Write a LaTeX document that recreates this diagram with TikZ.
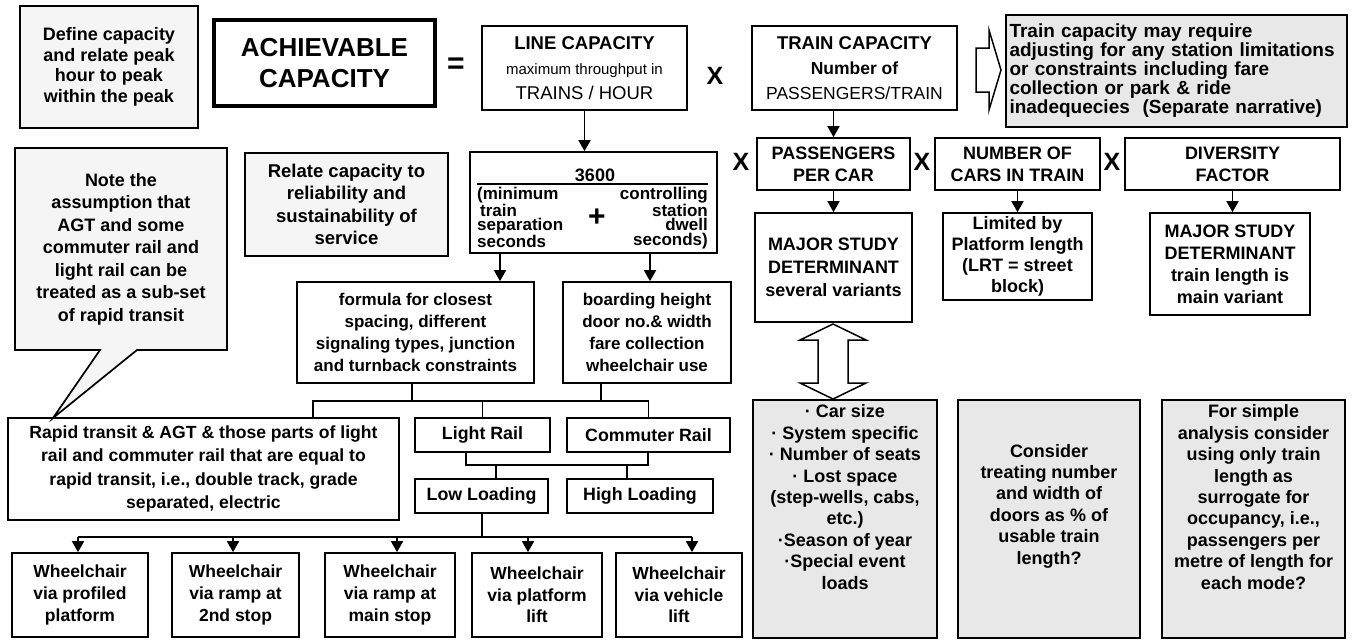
\documentclass[tikz,border=0pt]{standalone}
\usepackage{fontspec}
\setmainfont{Liberation Sans}
\usetikzlibrary{arrows.meta,calc}
\newcommand\myfs[2]{\fontsize{#1}{#2}\selectfont}
\begin{document}
\begin{tikzpicture}[x=1pt,y=-1pt,
  bx/.style={draw, line width=1.7pt, inner sep=0pt, align=center, font=\bfseries\myfs{18}{21.5}},
  txt/.style={inner sep=0pt, align=center, font=\bfseries\myfs{18}{21.4}},
  stip/.style={fill=black!9},
  lstip/.style={fill=black!4},
  arr/.style={line width=1.7pt, -{Triangle[length=11pt,width=12pt]}},
  ln/.style={line width=1.7pt},
  op/.style={font=\bfseries\myfs{25}{25}, inner sep=0pt}]
\useasboundingbox (0,0) rectangle (1353,640);
\fill[white] (0,0) rectangle (1353,640);

% ---------- top row
\node[bx,lstip,minimum width=178pt,minimum height=122pt,font=\bfseries\myfs{18}{20.5}] (define) at (109,67)
  {Define capacity\\and relate peak\\hour to peak\\within the peak};
\node[bx,line width=4pt,minimum width=221pt,minimum height=86pt,font=\bfseries\myfs{26}{31}] (achieve) at (324.5,63)
  {ACHIEVABLE\\CAPACITY};
\node[op,font=\bfseries\myfs{30}{30}] (eq) at (456,66) {=};
\node[bx,minimum width=205pt,minimum height=84pt,font=\bfseries\myfs{18.5}{25}] (line) at (584.5,68)
  {LINE CAPACITY\\{\mdseries\myfs{15}{25}maximum throughput in}\\{\mdseries\myfs{18.5}{25}TRAINS / HOUR}};
\node[op] (x1) at (715,76) {X};
\node[bx,minimum width=205pt,minimum height=84pt,font=\bfseries\myfs{18.5}{25}] (train) at (854.5,68)
  {TRAIN CAPACITY\\{\myfs{17.5}{25}Number of}\\{\mdseries\myfs{17.5}{25}PASSENGERS/TRAIN}};
\draw[line width=1.5pt,line join=miter] (976,48) -- (989,48) -- (989,30) -- (1001,70) -- (989,110) -- (989,92) -- (976,92) -- cycle;
\node[bx,stip,minimum width=341pt,minimum height=112pt,text width=334pt,align=left,font=\bfseries\myfs{19}{19}] (tnote) at (1176.5,71)
  {Train capacity may require\\adjusting for any station limitations\\or constraints including fare\\collection or park \& ride\\inadequecies\ \ (Separate narrative)};

% ---------- second row
\draw[ln,lstip,line join=miter] (15,148) -- (227,148) -- (227,350) -- (137,350) -- (53,418) -- (100,350) -- (15,350) -- cycle;
\node[txt,font=\bfseries\myfs{18}{22.5}] (note) at (121,249)
  {Note the\\assumption that\\AGT and some\\commuter rail and\\light rail can be\\treated as a sub-set\\of rapid transit};
\node[bx,lstip,minimum width=203pt,minimum height=103pt,font=\bfseries\myfs{18.5}{22.5}] (relate) at (346.5,204.5)
  {Relate capacity to\\reliability and\\sustainability of\\service};
\node[bx,minimum width=247pt,minimum height=101pt] (formula) at (593.5,202.5) {};
\node[font=\bfseries\myfs{18}{18},inner sep=0pt] (f3600) at (595,175) {3600};
\draw[ln] (477,184) -- (708,184);
\node[align=left,anchor=north west,font=\bfseries\myfs{17}{14.5},inner sep=0pt] (fl) at (477,187)
  {(minimum\\\hspace{3pt}train\\separation\\seconds};
\node[align=right,anchor=north east,font=\bfseries\myfs{17}{14.5},inner sep=0pt] (fr) at (708,187)
  {controlling\\station\\dwell\\seconds)};
\node[font=\bfseries\myfs{30}{30},inner sep=0pt] (fplus) at (597,218) {+};

\node[op] (x2) at (741,162) {X};
\node[bx,minimum width=153pt,minimum height=52pt,font=\bfseries\myfs{18}{22}] (pass) at (833.5,164) {PASSENGERS\\PER CAR};
\node[op] (x3) at (922,162) {X};
\node[bx,minimum width=165pt,minimum height=52pt,font=\bfseries\myfs{18}{22}] (number) at (1017.5,164) {NUMBER OF\\CARS IN TRAIN};
\node[op] (x4) at (1112,162) {X};
\node[bx,minimum width=215pt,minimum height=52pt,font=\bfseries\myfs{18}{22}] (divers) at (1232.5,164) {DIVERSITY\\FACTOR};

\node[bx,minimum width=157pt,minimum height=109pt,font=\bfseries\myfs{18}{23}] (major1) at (833.5,267.5)
  {MAJOR STUDY\\DETERMINANT\\several variants};
\node[bx,minimum width=149pt,minimum height=87pt,font=\bfseries\myfs{18}{21}] (limited) at (1017.5,256.5)
  {Limited by\\Platform length\\(LRT = street\\block)};
\node[bx,minimum width=160pt,minimum height=102pt,font=\bfseries\myfs{18}{22}] (major2) at (1230,264)
  {MAJOR STUDY\\DETERMINANT\\train length is\\main variant};

% ---------- third row
\node[bx,minimum width=237pt,minimum height=101pt,font=\bfseries\myfs{17}{22}] (formA) at (415.5,332.5)
  {formula for closest\\spacing, different\\signaling types, junction\\and turnback constraints};
\node[bx,minimum width=168pt,minimum height=101pt,font=\bfseries\myfs{17}{22}] (formB) at (647,332.5)
  {boarding height\\door no.\& width\\fare collection\\wheelchair use};

\node[bx,minimum width=391pt,minimum height=102pt,font=\bfseries\myfs{17.6}{23.3}] (rapid) at (203.5,469)
  {Rapid transit \& AGT \& those parts of light\\rail and commuter rail that are equal to\\rapid transit, i.e., double track, grade\\separated, electric};
\node[bx,minimum width=135pt,minimum height=34pt,font=\bfseries\myfs{17.8}{20}] (light) at (482.5,435) {Light Rail};
\node[bx,minimum width=163pt,minimum height=34pt,font=\bfseries\myfs{17.8}{20}] (commuter) at (648.5,435) {Commuter Rail};
\node[bx,minimum width=133pt,minimum height=34pt,font=\bfseries\myfs{17.8}{20}] (low) at (481.5,496) {Low Loading};
\node[bx,minimum width=146pt,minimum height=34pt,font=\bfseries\myfs{17.8}{20}] (high) at (640,496) {High Loading};

\node[bx,minimum width=136pt,minimum height=84pt,font=\bfseries\myfs{17.5}{21.7}] (w1) at (80,595) {Wheelchair\\via profiled\\platform};
\node[bx,minimum width=127pt,minimum height=84pt,font=\bfseries\myfs{17.5}{21.7}] (w2) at (235.5,595) {Wheelchair\\via ramp at\\2nd stop};
\node[bx,minimum width=130pt,minimum height=84pt,font=\bfseries\myfs{17.5}{21.7}] (w3) at (390,595) {Wheelchair\\via ramp at\\main stop};
\node[bx,minimum width=130pt,minimum height=84pt,font=\bfseries\myfs{17.5}{21.7}] (w4) at (537,595) {Wheelchair\\via platform\\lift};
\node[bx,minimum width=126pt,minimum height=84pt,font=\bfseries\myfs{17.5}{21.7}] (w5) at (679,595) {Wheelchair\\via vehicle\\lift};

\node[bx,stip,minimum width=184pt,minimum height=238pt] (bul) at (845,519) {};
\node[txt] (bultxt) at (845,497)
  {· Car size\\· System specific\\· Number of seats\\· Lost space\\(step-wells, cabs,\\etc.)\\·Season of year\\·Special event\\loads};
\node[bx,stip,minimum width=182pt,minimum height=238pt] (cons) at (1049,519) {};
\node[txt] (constxt) at (1049,506)
  {Consider\\treating number\\and width of\\doors as \% of\\usable train\\length?};
\node[bx,stip,minimum width=183pt,minimum height=238pt] (simp) at (1253.5,519) {};
\node[txt] (simptxt) at (1253.5,497)
  {For simple\\analysis consider\\using only train\\length as\\surrogate for\\occupancy, i.e.,\\passengers per\\metre of length for\\each mode?};

% ---------- connectors
\draw[arr] (line.south) -- (line.south |- formula.north);
\draw[arr] (train.south -| pass.north) -- (pass.north);
\draw[arr] (pass.south) -- (major1.north);
\draw[arr] (number.south) -- (limited.north);
\draw[arr] (divers.south) -- (divers.south |- major2.north);

\coordinate (fa) at (500,0);
\coordinate (fb) at (650,0);
\draw[arr] (formula.south -| fa) -- (formA.north -| fa);
\draw[arr] (formula.south -| fb) -- (formB.north -| fb);

\coordinate (j1) at (412,401);
\coordinate (j2) at (601,401);
\coordinate (jl) at (313,401);
\draw[ln] (formA.south -| j1) -- (j1);
\draw[ln] (formB.south -| j2) -- (j2);
\draw[ln] (rapid.north -| jl) -- (jl) -- (commuter.north |- jl) -- (commuter.north);
\draw[ln] (light.north) -- (light.north |- jl);

\coordinate (k1) at (466,465);
\coordinate (k2) at (648,465);
\coordinate (k3) at (496,465);
\coordinate (k4) at (627,465);
\draw[ln] (light.south -| k1) -- (k1) -- (k2) -- (commuter.south -| k2);
\draw[ln] (k3) -- (low.north -| k3);
\draw[ln] (k4) -- (high.north -| k4);

\coordinate (m0) at (482,537);
\coordinate (mL) at (78,537);
\coordinate (m2) at (233,537);
\coordinate (m3) at (397,537);
\coordinate (m4) at (528,537);
\coordinate (mR) at (692,537);
\draw[ln] (low.south -| m0) -- (m0);
\draw[ln] (mL) -- (mR);
\draw[arr] (mL) -- (w1.north -| mL);
\draw[arr] (m2) -- (w2.north -| m2);
\draw[arr] (m3) -- (w3.north -| m3);
\draw[arr] (m4) -- (w4.north -| m4);
\draw[arr] (mR) -- (w5.north -| mR);

% double hollow arrow
\draw[line width=1.5pt,line join=miter] (833,324) -- (866,340) -- (848,340) -- (848,383) -- (866,383) -- (833,399)
  -- (800,383) -- (818,383) -- (818,340) -- (800,340) -- cycle;
\end{tikzpicture}
\end{document}
